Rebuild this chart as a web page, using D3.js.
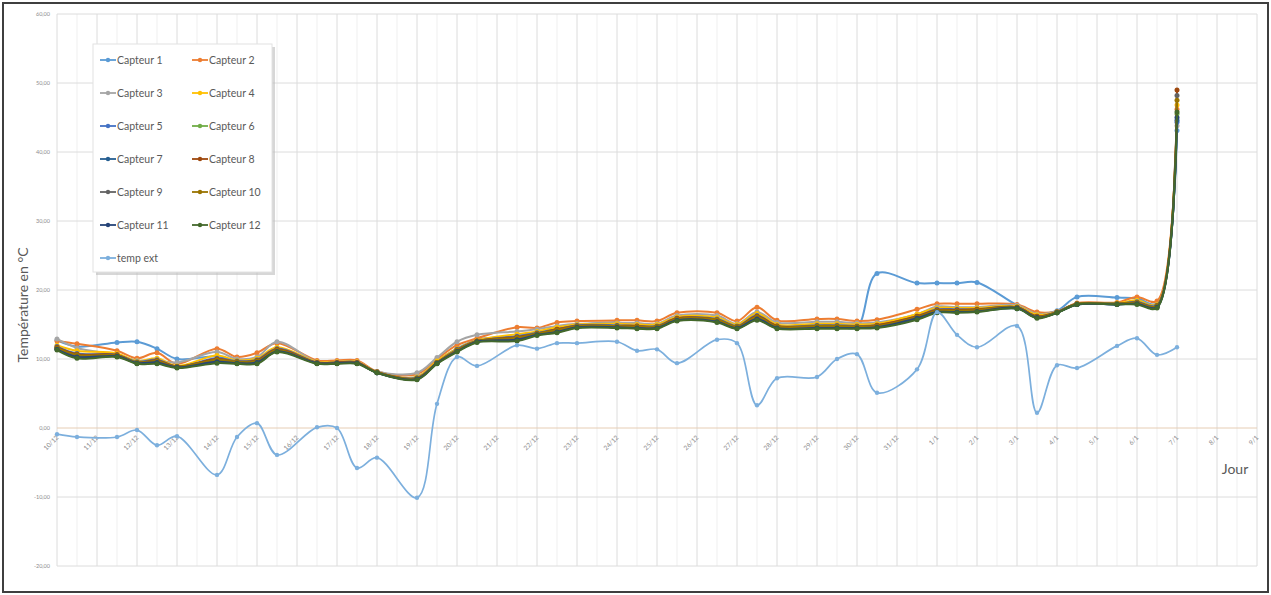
<!DOCTYPE html>
<html>
<head>
<meta charset="utf-8">
<script src="https://cdn.jsdelivr.net/npm/d3@7"></script>
<style>
  body { margin: 0; background: #fff; }
  svg text { font-family: Lato, "Open Sans", sans-serif; }
</style>
</head>
<body>
<svg id="chart" width="1271" height="595"></svg>
<script>

// measurement times, in days after 10/12 (00h)
const days = [0, 0.5, 1.5, 2, 2.5, 3, 4, 4.5, 5, 5.5, 6.5, 7, 7.5, 8, 9, 9.5,
              10, 10.5, 11.5, 12, 12.5, 13, 14, 14.5, 15, 15.5, 16.5, 17, 17.5, 18,
              19, 19.5, 20, 20.5, 21.5, 22, 22.5, 23, 24, 24.5, 25, 25.5, 26.5, 27, 27.5, 28];

const dayLabels = ["10/12", "11/12", "12/12", "13/12", "14/12", "15/12", "16/12", "17/12",
                   "18/12", "19/12", "20/12", "21/12", "22/12", "23/12", "24/12", "25/12",
                   "26/12", "27/12", "28/12", "29/12", "30/12", "31/12", "1/1", "2/1",
                   "3/1", "4/1", "5/1", "6/1", "7/1", "8/1", "9/1"];

const yTicks = [-20, -10, 0, 10, 20, 30, 40, 50, 60];

const capteur1 = [12.7, 11.8, 12.4, 12.5, 11.5, 10.0, 10.4, 9.6, 9.9, 11.6, 9.5, 9.5, 9.5, 8.1, 7.4, 9.7,
                  11.5, 12.8, 13.3, 13.9, 14.5, 14.9, 15.3, 14.8, 14.7, 15.9, 15.8, 14.8, 16.4, 14.8,
                  14.8, 14.8, 14.6, 22.4, 21.0, 21.0, 21.0, 21.1, 17.8, 16.6, 17.0, 19.0, 18.9, 18.8, 18.0, 43.1];
const capteur2 = [12.6, 12.2, 11.2, 10.1, 10.9, 9.3, 11.5, 10.3, 10.9, 12.3, 9.8, 9.8, 9.8, 8.2, 7.8, 10.0,
                  12.0, 13.0, 14.6, 14.5, 15.3, 15.5, 15.6, 15.6, 15.5, 16.7, 16.7, 15.5, 17.5, 15.6,
                  15.8, 15.8, 15.5, 15.7, 17.2, 18.0, 18.0, 18.0, 17.9, 16.8, 16.9, 18.1, 18.2, 19.0, 18.4, 46.2];
const capteur3 = [12.9, 11.6, 10.6, 9.8, 9.8, 9.5, 11.0, 10.0, 10.3, 12.5, 9.6, 9.6, 9.6, 8.2, 8.0, 10.2,
                  12.5, 13.5, 14.0, 14.3, 14.8, 15.1, 15.2, 15.2, 15.1, 16.3, 16.3, 15.1, 16.8, 15.3,
                  15.4, 15.4, 15.2, 15.3, 16.5, 17.6, 17.5, 17.5, 17.8, 16.5, 16.9, 18.0, 18.0, 18.1, 17.8, 43.8];
const capteur4 = [12.0, 11.2, 10.8, 9.7, 10.1, 9.0, 10.5, 9.8, 10.1, 11.7, 9.6, 9.6, 9.6, 8.1, 7.4, 9.7,
                  11.5, 12.7, 13.6, 14.0, 14.6, 15.0, 15.1, 15.0, 15.0, 16.1, 16.0, 15.0, 16.6, 15.0,
                  15.1, 15.1, 15.0, 15.1, 16.5, 17.4, 17.4, 17.4, 17.6, 16.4, 16.8, 18.0, 18.1, 18.5, 17.9, 46.8];
const capteur5 = [11.8, 10.8, 10.6, 9.6, 9.9, 8.9, 10.1, 9.7, 9.9, 11.5, 9.5, 9.5, 9.5, 8.1, 7.3, 9.5,
                  11.4, 12.6, 13.3, 13.8, 14.3, 14.9, 14.9, 14.8, 14.8, 15.9, 15.8, 14.8, 16.3, 14.8,
                  14.9, 14.9, 14.8, 14.9, 16.2, 17.2, 17.2, 17.2, 17.5, 16.2, 16.8, 18.0, 18.0, 18.3, 17.8, 44.3];
const capteur6 = [11.6, 10.5, 10.5, 9.5, 9.6, 8.8, 9.8, 9.5, 9.6, 11.3, 9.4, 9.4, 9.4, 8.0, 7.2, 9.4,
                  11.2, 12.5, 13.0, 13.6, 14.1, 14.7, 14.7, 14.6, 14.6, 15.7, 15.6, 14.6, 16.0, 14.6,
                  14.7, 14.7, 14.6, 14.7, 16.0, 17.0, 17.0, 17.0, 17.4, 16.1, 16.7, 17.9, 18.0, 18.1, 17.6, 45.5];
const capteur7 = [11.4, 10.2, 10.4, 9.4, 9.4, 8.8, 9.5, 9.4, 9.4, 11.1, 9.4, 9.4, 9.4, 8.0, 7.1, 9.4,
                  11.1, 12.5, 12.7, 13.5, 13.9, 14.6, 14.6, 14.5, 14.5, 15.6, 15.4, 14.5, 15.7, 14.5,
                  14.5, 14.5, 14.5, 14.6, 15.8, 16.8, 16.8, 16.9, 17.3, 16.0, 16.7, 17.9, 17.9, 18.0, 17.5, 44.6];
const capteur8 = [11.7, 10.7, 10.6, 9.5, 9.8, 8.9, 10.0, 9.6, 9.8, 11.4, 9.5, 9.5, 9.5, 8.1, 7.2, 9.5,
                  11.3, 12.6, 13.2, 13.7, 14.3, 14.8, 14.8, 14.8, 14.7, 15.9, 15.7, 14.7, 16.2, 14.8,
                  14.8, 14.8, 14.7, 14.9, 16.2, 17.1, 17.1, 17.2, 17.5, 16.2, 16.8, 18.0, 18.0, 18.2, 17.7, 49.0];
const capteur9 = [11.5, 10.4, 10.4, 9.4, 9.5, 8.8, 9.7, 9.5, 9.5, 11.2, 9.4, 9.4, 9.4, 8.0, 7.1, 9.4,
                  11.2, 12.5, 12.9, 13.6, 14.0, 14.7, 14.7, 14.6, 14.6, 15.7, 15.5, 14.6, 15.9, 14.6,
                  14.6, 14.6, 14.6, 14.7, 15.9, 16.9, 16.9, 17.0, 17.4, 16.0, 16.7, 17.9, 18.0, 18.1, 17.6, 48.2];
const capteur10 = [11.6, 10.6, 10.5, 9.5, 9.7, 8.9, 9.9, 9.6, 9.7, 11.3, 9.4, 9.4, 9.4, 8.1, 7.2, 9.5,
                   11.3, 12.6, 13.1, 13.7, 14.2, 14.8, 14.8, 14.7, 14.7, 15.8, 15.7, 14.7, 16.1, 14.7,
                   14.8, 14.8, 14.7, 14.8, 16.1, 17.0, 17.0, 17.1, 17.5, 16.1, 16.8, 18.0, 18.0, 18.2, 17.7, 47.5];
const capteur11 = [11.4, 10.3, 10.4, 9.4, 9.5, 8.8, 9.6, 9.4, 9.5, 11.1, 9.4, 9.4, 9.4, 8.0, 7.1, 9.4,
                   11.1, 12.5, 12.8, 13.5, 13.9, 14.6, 14.6, 14.5, 14.5, 15.6, 15.4, 14.5, 15.8, 14.5,
                   14.5, 14.5, 14.5, 14.6, 15.9, 16.8, 16.8, 16.9, 17.4, 16.0, 16.7, 17.9, 17.9, 18.0, 17.5, 45.0];
const capteur12 = [11.3, 10.1, 10.3, 9.3, 9.3, 8.7, 9.4, 9.3, 9.3, 11.0, 9.3, 9.3, 9.3, 8.0, 7.0, 9.3,
                   11.0, 12.4, 12.6, 13.4, 13.8, 14.5, 14.5, 14.4, 14.4, 15.5, 15.3, 14.4, 15.6, 14.4,
                   14.4, 14.4, 14.4, 14.5, 15.7, 16.7, 16.7, 16.8, 17.3, 15.9, 16.7, 17.9, 17.9, 17.9, 17.4, 45.8];
const tempExt = [-0.9, -1.3, -1.3, -0.3, -2.5, -1.2, -6.8, -1.3, 0.7, -3.9, 0.1, 0.0, -5.8, -4.3, -10.1, 3.5,
                 10.3, 9.0, 12.0, 11.5, 12.3, 12.3, 12.5, 11.2, 11.4, 9.4, 12.8, 12.3, 3.3, 7.2,
                 7.4, 10.0, 10.7, 5.1, 8.5, 16.8, 13.5, 11.7, 14.8, 2.2, 9.1, 8.7, 11.9, 13.0, 10.6, 11.7];

const seriesNames = ["Capteur 1", "Capteur 2", "Capteur 3", "Capteur 4", "Capteur 5", "Capteur 6",
                     "Capteur 7", "Capteur 8", "Capteur 9", "Capteur 10", "Capteur 11", "Capteur 12", "temp ext"];
const seriesColors = ["#5b9bd5", "#ed7d31", "#a5a5a5", "#ffc000", "#4472c4", "#70ad47",
                      "#255e91", "#9e480e", "#636363", "#997300", "#264478", "#43682b", "#7cafdd"];
const seriesValues = [capteur1, capteur2, capteur3, capteur4, capteur5, capteur6,
                      capteur7, capteur8, capteur9, capteur10, capteur11, capteur12, tempExt];

function drawChart() {
    const svg = d3.select("#chart");

    var scX = d3.scaleLinear().domain([0, 30]).range([57, 1257]);
    var scY = d3.scaleLinear().domain([-20, 60]).range([566, 14]);

    const fr = d3.formatLocale({ decimal: ",", thousands: " ", grouping: [3], currency: ["", " €"], minus: "-" });
    const fmt = fr.format(".2f");

    svg.append("rect")
       .attr("x", 3).attr("y", 3).attr("width", 1265).attr("height", 589)
       .attr("fill", "white").attr("stroke", "#3f3f3f").attr("stroke-width", 2);

    // minor vertical grid (half days)
    svg.append("g").selectAll("line")
       .data(d3.range(0.5, 30, 1))
       .enter().append("line")
       .attr("x1", d => scX(d)).attr("x2", d => scX(d))
       .attr("y1", scY(60)).attr("y2", scY(-20))
       .attr("stroke", "#efefef").attr("stroke-width", 1);

    // major grid
    svg.append("g").selectAll("line")
       .data(d3.range(0, 31))
       .enter().append("line")
       .attr("x1", d => scX(d)).attr("x2", d => scX(d))
       .attr("y1", scY(60)).attr("y2", scY(-20))
       .attr("stroke", "#dcdcdc").attr("stroke-width", 1);

    svg.append("g").selectAll("line")
       .data(yTicks)
       .enter().append("line")
       .attr("x1", scX(0)).attr("x2", scX(30))
       .attr("y1", d => scY(d)).attr("y2", d => scY(d))
       .attr("stroke", d => d === 0 ? "#e6cdb4" : "#dcdcdc").attr("stroke-width", 1);

    // y tick labels
    svg.append("g").selectAll("text")
       .data(yTicks)
       .enter().append("text")
       .attr("x", 50).attr("y", d => scY(d) + 2)
       .attr("text-anchor", "end")
       .attr("font-size", 5.5).attr("fill", "#8c8c8c")
       .text(d => fmt(d));

    // x tick labels, rotated, hanging under the 0 line
    svg.append("g").selectAll("text")
       .data(dayLabels)
       .enter().append("text")
       .attr("transform", (d, i) => "translate(" + (scX(i) + 2) + "," + (scY(0) + 10) + ") rotate(-45)")
       .attr("text-anchor", "end")
       .attr("font-size", 6.5).attr("fill", "#8c8c8c")
       .text(d => d);

    svg.append("text")
       .attr("transform", "translate(28," + 305 + ") rotate(-90)")
       .attr("text-anchor", "middle")
       .attr("font-size", 14).attr("fill", "#595959")
       .text("Température en °C");

    svg.append("text")
       .attr("x", 1235).attr("y", 474)
       .attr("text-anchor", "middle")
       .attr("font-size", 14).attr("fill", "#595959")
       .text("Jour");

    const line = d3.line()
        .x(d => scX(d[0]))
        .y(d => scY(d[1]))
        .curve(d3.curveCatmullRom.alpha(0.5));

    seriesValues.forEach(function (vals, k) {
        const pts = days.map((t, i) => [t, vals[i]]);
        const g = svg.append("g");
        const isExt = k === 12;
        g.append("path")
         .attr("d", line(pts))
         .attr("fill", "none")
         .attr("stroke", seriesColors[k])
         .attr("stroke-width", isExt ? 1.7 : 2);
        g.selectAll("circle")
         .data(pts)
         .enter().append("circle")
         .attr("cx", d => scX(d[0])).attr("cy", d => scY(d[1]))
         .attr("r", isExt ? 2.2 : 2.5)
         .attr("fill", seriesColors[k]);
    });

    // legend
    const leg = svg.append("g").attr("transform", "translate(93,44)");
    leg.append("rect")
       .attr("x", 3).attr("y", 3).attr("width", 179).attr("height", 228)
       .attr("fill", "#bdbdbd").attr("opacity", 0.6);
    leg.append("rect")
       .attr("width", 179).attr("height", 228)
       .attr("fill", "white").attr("stroke", "#e2e2e2");

    const items = leg.selectAll("g.item")
       .data(seriesNames)
       .enter().append("g")
       .attr("class", "item")
       .attr("transform", (d, i) => "translate(" + (i % 2 === 0 ? 7 : 99) + "," + (16 + Math.floor(i / 2) * 33) + ")");
    items.append("line")
       .attr("x1", 0).attr("x2", 16).attr("y1", 0).attr("y2", 0)
       .attr("stroke", (d, i) => seriesColors[i]).attr("stroke-width", 1.8);
    items.append("circle")
       .attr("cx", 8).attr("cy", 0).attr("r", 2.2)
       .attr("fill", (d, i) => seriesColors[i]);
    items.append("text")
       .attr("x", 17).attr("y", 3.5)
       .attr("font-size", 10.5).attr("fill", "#595959")
       .text(d => d);
}

drawChart();
</script>
</body>
</html>
